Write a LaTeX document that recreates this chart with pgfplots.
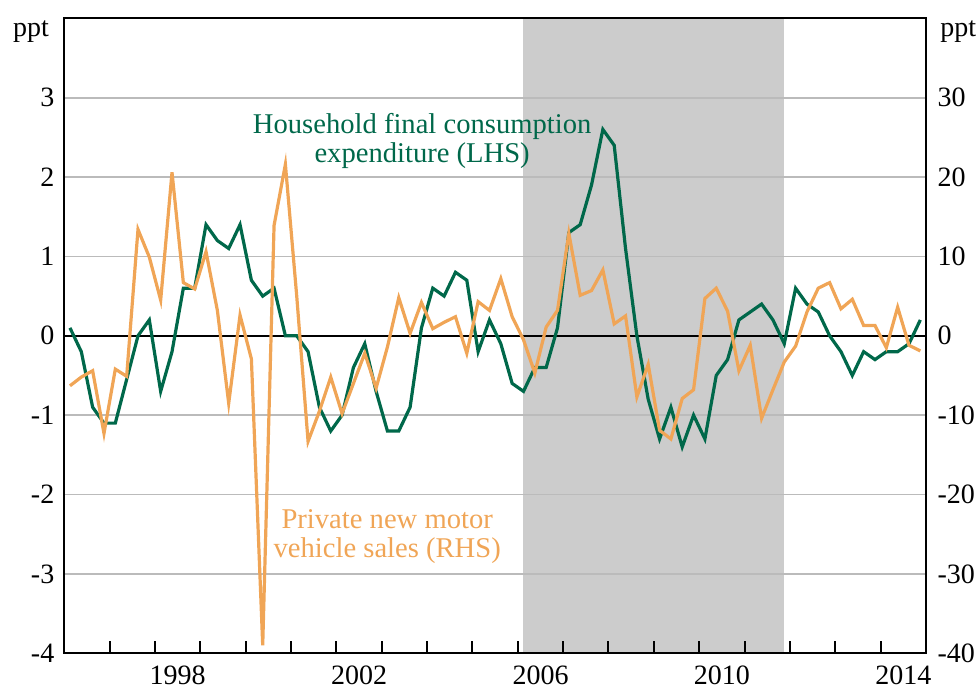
\documentclass[border=0pt]{standalone}
\usepackage{fontspec}
\setmainfont{Liberation Serif}
\usepackage{pgfplots}
\usepackage{pgfplotstable}
\pgfplotsset{compat=1.18}
\definecolor{hgreen}{HTML}{00684A}
\definecolor{vorange}{HTML}{F0A556}
\definecolor{shadec}{HTML}{CCCCCC}
\definecolor{gridc}{HTML}{BBBBBB}

\pgfplotstableread{
x h m
1996.125 0.1 -6.3
1996.375 -0.2 -5.2
1996.625 -0.9 -4.4
1996.875 -1.1 -12.3
1997.125 -1.1 -4.2
1997.375 -0.55 -5.1
1997.625 0.0 13.4
1997.875 0.2 9.9
1998.125 -0.7 4.5
1998.375 -0.2 20.6
1998.625 0.6 6.7
1998.875 0.6 5.9
1999.125 1.4 10.6
1999.375 1.2 3.2
1999.625 1.1 -8.5
1999.875 1.4 2.6
2000.125 0.7 -2.9
2000.375 0.5 -39.0
2000.625 0.6 13.9
2000.875 0.0 21.6
2001.125 0.0 5.0
2001.375 -0.2 -13.3
2001.625 -0.9 -9.5
2001.875 -1.2 -5.2
2002.125 -1.0 -9.8
2002.375 -0.4 -6.0
2002.625 -0.1 -2.2
2002.875 -0.7 -6.6
2003.125 -1.2 -1.4
2003.375 -1.2 4.8
2003.625 -0.9 0.3
2003.875 0.1 4.2
2004.125 0.6 0.9
2004.375 0.5 1.7
2004.625 0.8 2.4
2004.875 0.7 -2.2
2005.125 -0.2 4.3
2005.375 0.2 3.2
2005.625 -0.1 7.2
2005.875 -0.6 2.4
2006.125 -0.7 -0.5
2006.375 -0.4 -4.7
2006.625 -0.4 1.1
2006.875 0.1 3.2
2007.125 1.3 12.9
2007.375 1.4 5.1
2007.625 1.9 5.7
2007.875 2.6 8.3
2008.125 2.4 1.5
2008.375 1.1 2.5
2008.625 0.0 -7.7
2008.875 -0.8 -3.6
2009.125 -1.3 -11.9
2009.375 -0.9 -13.0
2009.625 -1.4 -7.9
2009.875 -1.0 -6.8
2010.125 -1.3 4.7
2010.375 -0.5 6.0
2010.625 -0.3 3.1
2010.875 0.2 -4.4
2011.125 0.3 -1.2
2011.375 0.4 -10.4
2011.625 0.2 -6.8
2011.875 -0.1 -3.3
2012.125 0.6 -1.3
2012.375 0.4 3.0
2012.625 0.3 6.0
2012.875 0.0 6.7
2013.125 -0.2 3.4
2013.375 -0.5 4.6
2013.625 -0.2 1.3
2013.875 -0.3 1.3
2014.125 -0.2 -1.5
2014.375 -0.2 3.6
2014.625 -0.1 -1.2
2014.875 0.2 -1.9
}\data

\begin{document}
\begin{tikzpicture}
\begin{axis}[
  set layers,
  clip mode=individual,
  scale only axis, width=430.85bp, height=317.5bp,
  xmin=1996, xmax=2015, ymin=-4, ymax=4,
  ytick={-4,-3,...,3},
  ymajorgrids, major grid style={gridc, line width=0.9bp},
  xtick={1998.5,2002.5,2006.5,2010.5,2014.5},
  xticklabels={1998,2002,2006,2010,2014},
  minor xtick={1997,...,2014},
  xtick pos=left, ytick pos=left,
  tick align=inside,
  major tick length=0pt, minor tick length=6bp,
  tick style={black, line width=1bp},
  axis line style={line width=1.1bp},
  ticklabel style={font=\fontsize{14bp}{16bp}\selectfont},
  /pgf/number format/assume math mode=true,
  xticklabel shift=2.7bp, yticklabel shift=1.5bp,
]
\begin{pgfonlayer}{axis background}
\fill[shadec] (axis cs:2006.125,-4) rectangle (axis cs:2011.875,4);
\end{pgfonlayer}
\draw[black, line width=0.8bp] (axis cs:1996,0) -- (axis cs:2015,0);
\addplot[hgreen, line width=1.6bp] table[x=x,y=h]{\data};
\node[hgreen, align=center, font=\fontsize{14.3bp}{14.5bp}\selectfont] at (axis cs:2003.89,2.46) {Household final consumption\\expenditure (LHS)};
\node[vorange, align=center, font=\fontsize{14.3bp}{14.5bp}\selectfont] at (axis cs:2003.12,-2.53) {Private new motor\\vehicle sales (RHS)};
\node[anchor=base east, font=\fontsize{14bp}{16bp}\selectfont, inner sep=0pt] at ([xshift=-7.5bp, yshift=-9bp]rel axis cs:0,1) {ppt};
\coordinate (bl) at (rel axis cs:0,0);
\coordinate (tr) at (rel axis cs:1,1);
\end{axis}
\begin{axis}[
  clip mode=individual,
  scale only axis, width=430.85bp, height=317.5bp,
  xmin=1996, xmax=2015, ymin=-40, ymax=40,
  axis x line=none, axis y line*=right,
  ytick={-40,-30,...,30},
  major tick length=0pt,
  axis line style={line width=1.1bp},
  ticklabel style={font=\fontsize{14bp}{16bp}\selectfont},
  /pgf/number format/assume math mode=true,
  yticklabel shift=2.3bp,
]
\addplot[vorange, line width=1.6bp] table[x=x,y=m]{\data};
\node[anchor=base west, font=\fontsize{14bp}{16bp}\selectfont, inner sep=0pt] at ([xshift=7bp, yshift=-9bp]rel axis cs:1,1) {ppt};
\end{axis}
\pgfresetboundingbox
\path[use as bounding box] ([xshift=-32.15bp, yshift=-18.85bp]bl) rectangle ([xshift=26.5bp, yshift=9.15bp]tr);
\end{tikzpicture}
\end{document}
